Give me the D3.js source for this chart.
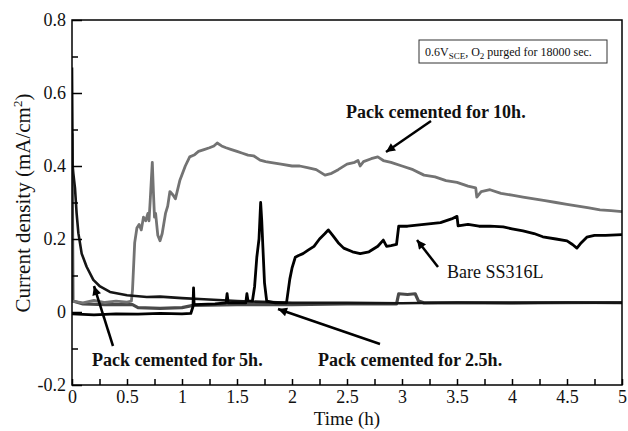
<!DOCTYPE html>
<html><head><meta charset="utf-8">
<script src="https://cdn.jsdelivr.net/npm/d3@7"></script>
<style>body{margin:0;background:#fff}svg{display:block}text{font-family:"Liberation Serif","Times New Roman",serif}</style>
</head><body>
<script>
// ---- data (time in h, current density in mA/cm2) ----
const series10h = [[0,0.03],[0.1,0.025],[0.2,0.032],[0.3,0.026],[0.4,0.03],[0.5,0.027],[0.54,0.03],[0.55,0.06],[0.57,0.19],[0.59,0.23],[0.61,0.24],[0.63,0.225],[0.65,0.26],[0.67,0.25],[0.69,0.27],[0.70,0.25],[0.71,0.30],[0.73,0.41],[0.74,0.33],[0.75,0.26],[0.76,0.27],[0.78,0.21],[0.80,0.195],[0.82,0.215],[0.85,0.27],[0.87,0.29],[0.89,0.33],[0.92,0.32],[0.94,0.31],[0.98,0.36],[1.03,0.40],[1.07,0.425],[1.11,0.43],[1.15,0.44],[1.20,0.445],[1.25,0.45],[1.29,0.455],[1.32,0.463],[1.36,0.455],[1.40,0.45],[1.45,0.445],[1.50,0.44],[1.55,0.435],[1.60,0.43],[1.65,0.428],[1.71,0.416],[1.76,0.412],[1.80,0.41],[1.90,0.405],[2.0,0.40],[2.07,0.40],[2.15,0.395],[2.22,0.39],[2.30,0.375],[2.36,0.38],[2.42,0.39],[2.50,0.405],[2.57,0.41],[2.60,0.415],[2.62,0.40],[2.65,0.412],[2.72,0.42],[2.78,0.425],[2.83,0.415],[2.90,0.41],[3.0,0.40],[3.1,0.39],[3.2,0.375],[3.3,0.37],[3.4,0.36],[3.5,0.355],[3.6,0.345],[3.67,0.34],[3.68,0.315],[3.72,0.33],[3.8,0.335],[3.9,0.325],[4.0,0.32],[4.1,0.315],[4.2,0.31],[4.3,0.305],[4.4,0.30],[4.5,0.295],[4.6,0.29],[4.7,0.285],[4.8,0.28],[4.9,0.278],[5.0,0.275]];
const seriesBare = [[0,-0.005],[0.2,-0.008],[0.4,-0.005],[0.6,-0.006],[0.8,-0.004],[1.0,-0.005],[1.08,-0.004],[1.10,0.015],[1.105,0.066],[1.11,0.02],[1.3,0.022],[1.40,0.025],[1.41,0.05],[1.42,0.025],[1.58,0.025],[1.59,0.05],[1.60,0.03],[1.64,0.03],[1.66,0.07],[1.68,0.15],[1.70,0.20],[1.715,0.30],[1.725,0.25],[1.735,0.18],[1.75,0.08],[1.77,0.03],[1.85,0.025],[1.95,0.025],[1.98,0.09],[2.0,0.12],[2.03,0.15],[2.06,0.155],[2.1,0.16],[2.15,0.17],[2.2,0.18],[2.25,0.20],[2.3,0.215],[2.33,0.225],[2.37,0.21],[2.42,0.19],[2.47,0.175],[2.55,0.165],[2.62,0.16],[2.7,0.165],[2.78,0.18],[2.83,0.197],[2.86,0.18],[2.9,0.182],[2.95,0.185],[2.97,0.235],[3.05,0.235],[3.2,0.24],[3.35,0.245],[3.45,0.255],[3.5,0.262],[3.51,0.236],[3.6,0.24],[3.7,0.235],[3.8,0.235],[3.92,0.233],[4.0,0.228],[4.1,0.222],[4.2,0.215],[4.28,0.206],[4.4,0.2],[4.5,0.195],[4.55,0.185],[4.59,0.175],[4.63,0.19],[4.68,0.205],[4.75,0.21],[4.85,0.21],[5.0,0.212]];
const series5h = [[0,0.67],[0.006,0.40],[0.012,0.38],[0.027,0.34],[0.042,0.27],[0.058,0.216],[0.088,0.16],[0.133,0.124],[0.194,0.088],[0.255,0.07],[0.345,0.055],[0.5,0.046],[0.68,0.041],[0.8,0.042],[1.0,0.038],[1.2,0.035],[1.5,0.03],[1.8,0.027],[2.0,0.025],[2.5,0.025],[3.0,0.024],[3.5,0.026],[4.0,0.025],[4.5,0.026],[5.0,0.025]];
const series2_5h = [[0,0.49],[0.008,0.03],[0.1,0.022],[0.3,0.02],[0.55,0.02],[0.6,0.012],[0.8,0.01],[1.0,0.012],[1.1,0.018],[1.5,0.02],[2.0,0.02],[2.5,0.022],[2.95,0.022],[2.97,0.05],[3.05,0.048],[3.12,0.05],[3.15,0.03],[3.2,0.025],[4.0,0.025],[5.0,0.026]];
const xTickLabels = ["0","0.5","1","1.5","2","2.5","3","3.5","4","4.5","5"];
const yTickLabels = ["-0.2","0","0.2","0.4","0.6","0.8"];

const W = 628, H = 431;
const svg = d3.select("body").append("svg").attr("width", W).attr("height", H);
const x = d3.scaleLinear().domain([0, 5]).range([72, 622]);
const y = d3.scaleLinear().domain([-0.2, 0.8]).range([385, 20]);

svg.append("defs").append("clipPath").attr("id","clip").append("rect")
  .attr("x",72).attr("y",20).attr("width",550).attr("height",365);
const mk = svg.select("defs").append("marker").attr("id","ah").attr("viewBox","0 0 10 10")
  .attr("refX",10).attr("refY",5).attr("markerWidth",12).attr("markerHeight",9)
  .attr("markerUnits","userSpaceOnUse").attr("orient","auto");
mk.append("path").attr("d","M0,0L10,5L0,10z").attr("fill","#000");

const line = d3.line().x(d => x(d[0])).y(d => y(d[1]));
const g = svg.append("g").attr("clip-path","url(#clip)");
[[series2_5h,"#4a4a4a",3.2],[series10h,"#737373",2.8],[series5h,"#151515",2.6],[seriesBare,"#000",2.8]].forEach(([s,c,w]) => {
  g.append("path").datum(s).attr("d", line).attr("fill","none").attr("stroke", c)
    .attr("stroke-width", w).attr("stroke-linejoin","round");
});

// axes
const xAx = svg.append("g").attr("transform","translate(0,385)")
  .call(d3.axisBottom(x).tickValues(d3.range(0, 5.001, 0.25)).tickSize(-6).tickPadding(5)
    .tickFormat((d,i) => i % 2 === 0 ? xTickLabels[i/2] : ""));
const yMinor = svg.append("g").attr("transform","translate(72,0)")
  .call(d3.axisLeft(y).tickValues([-0.1,0.1,0.3,0.5,0.7]).tickSize(-6).tickFormat(""));
const yAx = svg.append("g").attr("transform","translate(72,0)")
  .call(d3.axisLeft(y).tickValues([-0.2,0,0.2,0.4,0.6,0.8]).tickSize(-10).tickPadding(6)
    .tickFormat((d,i) => yTickLabels[i]));
[xAx, yMinor, yAx].forEach(a => {
  a.select(".domain").remove();
  a.selectAll("line").attr("stroke","#000").attr("stroke-width",1.5);
  a.selectAll("text").attr("font-size",18).attr("fill","#111").style("font-family","'Liberation Serif',serif");
});
svg.append("rect").attr("x",72).attr("y",20).attr("width",550).attr("height",365)
  .attr("fill","none").attr("stroke","#000").attr("stroke-width",1.5);

// axis titles
svg.append("text").attr("x",347).attr("y",425).attr("text-anchor","middle").attr("font-size",19).attr("fill","#111").text("Time (h)");
const yt = svg.append("text").attr("transform","translate(30,203) rotate(-90)").attr("text-anchor","middle").attr("font-size",21).attr("fill","#111");
yt.append("tspan").text("Current density (mA/cm");
yt.append("tspan").attr("font-size",13).attr("dy",-8).text("2");
yt.append("tspan").attr("dy",8).text(")");

// info box
svg.append("rect").attr("x",419).attr("y",40).attr("width",188).attr("height",23).attr("fill","#fff").attr("stroke","#333").attr("stroke-width",1);
const it = svg.append("text").attr("x",425).attr("y",56).attr("font-size",12).attr("fill","#111");
it.append("tspan").text("0.6V");
it.append("tspan").attr("font-size",9).attr("dy",3).text("SCE");
it.append("tspan").attr("dy",-3).text(", O");
it.append("tspan").attr("font-size",9).attr("dy",3).text("2");
it.append("tspan").attr("dy",-3).text(" purged for 18000 sec.");

// annotations
const ann = (t, px, py, bold) => svg.append("text").attr("x",px).attr("y",py).attr("font-size",18)
  .attr("font-weight", bold ? "bold" : "normal").attr("fill","#111").text(t);
ann("Pack cemented for 10h.", 346, 118, true);
ann("Bare SS316L", 447, 278, false);
ann("Pack cemented for 5h.", 92, 366, true);
ann("Pack cemented for 2.5h.", 318, 366, true);
const arrow = (x1,y1,x2,y2) => svg.append("line").attr("x1",x1).attr("y1",y1).attr("x2",x2).attr("y2",y2)
  .attr("stroke","#000").attr("stroke-width",2.5).attr("marker-end","url(#ah)");
arrow(431,121,386,152);
arrow(438,267,417,240);
arrow(113,346,94,286);
arrow(380,344,278,309);
</script>
</body></html>
